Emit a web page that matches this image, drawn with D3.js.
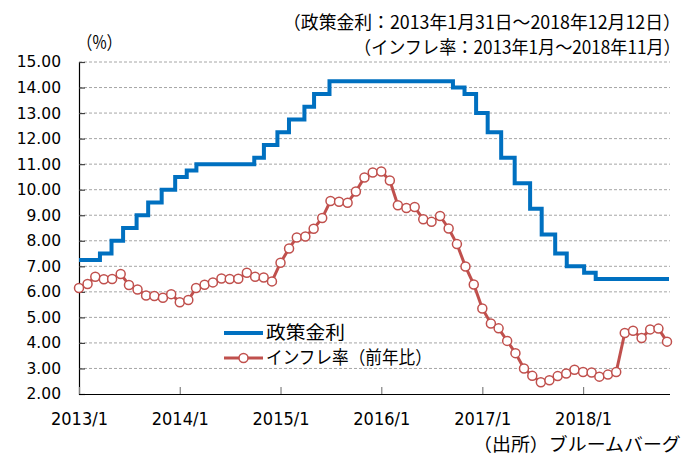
<!DOCTYPE html>
<html><head><meta charset="utf-8">
<script src="https://cdn.jsdelivr.net/npm/d3@7"></script>
<style>
html,body{margin:0;padding:0;background:#fff;}
svg{display:block;}
</style></head>
<body>
<script>
// ---- data ----
const policyDates = ["2013-01-31","2013-04-17","2013-05-29","2013-07-10","2013-08-28","2013-10-09","2013-11-27",
  "2014-01-15","2014-02-26","2014-04-02","2014-10-29","2014-12-03","2015-01-21","2015-03-04","2015-04-29",
  "2015-06-03","2015-07-29","2016-10-19","2016-11-30","2017-01-11","2017-02-22","2017-04-12","2017-05-31",
  "2017-07-26","2017-09-06","2017-10-25","2017-12-06","2018-02-07","2018-03-21","2018-12-12"];
const policyRates = [7.25,7.50,8.00,8.50,9.00,9.50,10.00,
  10.50,10.75,11.00,11.25,11.75,12.25,12.75,13.25,
  13.75,14.25,14.00,13.75,13.00,12.25,11.25,10.25,
  9.25,8.25,7.50,7.00,6.75,6.50,6.50];
const inflationMonths = d3.range(71).map(i => new Date(2013, i, 1));
const inflationRates = [
  6.15,6.31,6.59,6.49,6.50,6.70,6.27,6.09,5.86,5.84,5.77,5.91,
  5.59,5.68,6.15,6.28,6.37,6.52,6.50,6.51,6.75,6.59,6.56,6.41,
  7.14,7.70,8.13,8.17,8.47,8.89,9.56,9.53,9.49,9.93,10.48,10.67,
  10.71,10.36,9.39,9.28,9.32,8.84,8.74,8.97,8.48,7.87,6.99,6.29,
  5.35,4.76,4.57,4.08,3.60,3.00,2.71,2.46,2.54,2.70,2.80,2.95,
  2.86,2.84,2.68,2.76,2.86,4.39,4.48,4.19,4.53,4.56,4.05];
const yTicks = [2,3,4,5,6,7,8,9,10,11,12,13,14,15];
const xTickDates = [2013,2014,2015,2016,2017,2018].map(yr => new Date(yr,0,1));
const xTickLabels = ["2013/1","2014/1","2015/1","2016/1","2017/1","2018/1"];
const seriesNames = ["政策金利","インフレ率（前年比）"];
const titleLine1 = "（政策金利：2013年1月31日～2018年12月12日）";
const titleLine2 = "（インフレ率：2013年1月～2018年11月）";
const unitLabel = "（%）";
const sourceLabel = "（出所）ブルームバーグ";

(function(){
// ---- layout ----
const W = 686, H = 455;
const pl = 79, pr = 670, pt = 62, pb = 394;
const JP = "'Noto Sans CJK JP', sans-serif";
const NUM = "'DejaVu Sans', sans-serif";
const BLUE = "#0070C0", RED = "#C0504D";

const svg = d3.select("body").append("svg").attr("width", W).attr("height", H);

// place a text so its left edge is at x0 and its width equals w (horizontal scale only)
function fitText(str, x0, yc, w, size) {
  const t = svg.append("text").attr("x", 0).attr("y", 0).attr("dy", "0.36em").text(str)
    .attr("font-family", JP).attr("font-size", size).attr("fill", "#000");
  const len = t.node().getComputedTextLength() || w;
  t.attr("transform", `translate(${x0},${yc}) scale(${w/len},1)`);
  return t;
}

const y = d3.scaleLinear().domain([2, 15]).range([pb, pt]);
const xInf = d3.scaleTime().domain([new Date(2013,0,1), new Date(2018,10,1)]).range([pl, 667]);
const parse = d3.timeParse("%Y-%m-%d");
const pDates = policyDates.map(parse);
const xPol = d3.scaleTime().domain([pDates[0], pDates[pDates.length-1]]).range([pl, 669]);

// gridlines
svg.append("g").selectAll("line").data(yTicks.filter(d => d > 2)).join("line")
  .attr("x1", pl).attr("x2", pr)
  .attr("y1", d => y(d)).attr("y2", d => y(d))
  .attr("stroke", "#a6a6a6").attr("stroke-width", 1).attr("stroke-dasharray", "3,2");

// y axis
const yAxis = d3.axisLeft(y).tickValues(yTicks).tickFormat(d3.format(".2f")).tickSize(-6).tickPadding(18);
const gy = svg.append("g").attr("transform", `translate(${pl},0)`).call(yAxis);
gy.select(".domain").attr("stroke", "#000").attr("stroke-width", 1.2);
gy.selectAll(".tick line").attr("stroke", "#404040").attr("stroke-width", 1.2);
gy.selectAll(".tick text").attr("font-family", NUM).attr("font-size", 15.5).attr("fill", "#000");

// x axis
const xAxis = d3.axisBottom(xInf).tickValues(xTickDates).tickFormat((d,i) => xTickLabels[i]).tickSize(-7).tickPadding(19);
const gx = svg.append("g").attr("transform", `translate(0,${pb})`).call(xAxis);
gx.select(".domain").attr("d", `M${pl},0.5H${pr}`).attr("stroke", "#000").attr("stroke-width", 1.2);
gx.selectAll(".tick line").attr("stroke", "#808080").attr("stroke-width", 1.2);
gx.selectAll(".tick text").attr("font-family", NUM).attr("font-size", 17.5).attr("fill", "#000")
  .attr("textLength", 57).attr("lengthAdjust", "spacingAndGlyphs");

// policy rate step line
const polData = pDates.map((d,i) => [d, policyRates[i]]);
svg.append("path").datum(polData)
  .attr("d", d3.line().x(d => xPol(d[0])).y(d => y(d[1])).curve(d3.curveStepAfter))
  .attr("fill", "none").attr("stroke", BLUE).attr("stroke-width", 4);

// inflation line
const infData = inflationMonths.map((d,i) => [d, inflationRates[i]]);
svg.append("path").datum(infData)
  .attr("d", d3.line().x(d => xInf(d[0])).y(d => y(d[1])))
  .attr("fill", "none").attr("stroke", RED).attr("stroke-width", 3);
svg.append("g").selectAll("circle").data(infData).join("circle")
  .attr("cx", d => xInf(d[0])).attr("cy", d => y(d[1])).attr("r", 4.5)
  .attr("fill", "#fff").attr("stroke", RED).attr("stroke-width", 1.5);

// legend
svg.append("line").attr("x1", 224).attr("x2", 263).attr("y1", 333).attr("y2", 333)
  .attr("stroke", BLUE).attr("stroke-width", 4);
fitText(seriesNames[0], 266, 333, 79, 18);
svg.append("line").attr("x1", 224).attr("x2", 263).attr("y1", 358).attr("y2", 358)
  .attr("stroke", RED).attr("stroke-width", 3);
svg.append("circle").attr("cx", 243.5).attr("cy", 358).attr("r", 4.5)
  .attr("fill", "#fff").attr("stroke", RED).attr("stroke-width", 1.5);
fitText(seriesNames[1], 266, 358, 166, 18);

// titles
fitText(titleLine1, 283, 23, 398, 18);
fitText(titleLine2, 354, 48, 327, 18);
fitText(unitLabel, 77, 43, 45, 18);
fitText(sourceLabel, 473, 445, 208, 18);
})();
</script>
</body></html>
